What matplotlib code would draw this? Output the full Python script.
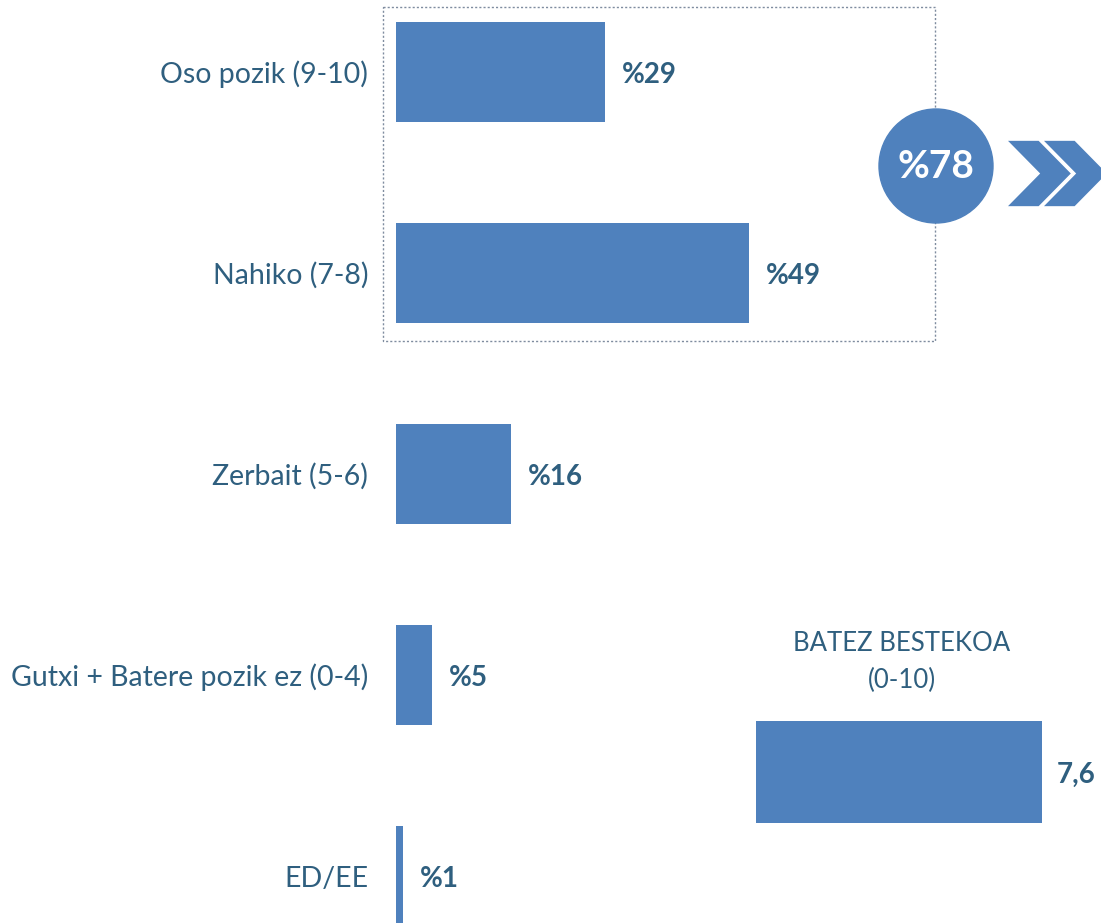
import matplotlib
matplotlib.use("Agg")
import matplotlib.pyplot as plt
from matplotlib.patches import Rectangle, Circle, Polygon

plt.rcParams['font.family'] = ['Lato', 'DejaVu Sans']

# datuak
categories = ['Oso pozik (9-10)', 'Nahiko (7-8)', 'Zerbait (5-6)',
              'Gutxi + Batere pozik ez (0-4)', 'ED/EE']
values = [29, 49, 16, 5, 1]
mean_label = 'BATEZ BESTEKOA\n(0-10)'
mean_value = 7.6

bar_color = '#4F81BD'
text_color = '#2F5F7F'

W, H = 1101, 923
fig = plt.figure(figsize=(W / 100, H / 100), dpi=100)

# barrak
px_per_pct = 7.2
ax = fig.add_axes([396 / W, 0, (W - 396) / W, 1])
ax.barh(range(len(values)), values, height=0.5, color=bar_color)
ax.set_xlim(0, (W - 396) / px_per_pct)
ax.set_ylim((H - 72) / 201, -72 / 201)
ax.set_yticks(range(len(categories)))
ax.set_yticklabels(categories, fontsize=20.5, color=text_color)
ax.tick_params(axis='y', length=0, pad=20)
ax.set_xticks([])
for s in ax.spines.values():
    s.set_visible(False)
for i, v in enumerate(values):
    ax.annotate(f'%{v}', (v, i), xytext=(12, -2), textcoords='offset points',
                ha='left', va='center', fontsize=20, fontweight='bold',
                color=text_color)

# batez bestekoa
ax2 = fig.add_axes([756 / W, (H - 823) / H, 376 / W, 102 / H])
ax2.barh([0], [mean_value], height=1, color=bar_color)
ax2.set_xlim(0, 10)
ax2.set_ylim(-0.5, 0.5)
ax2.axis('off')
ax2.annotate(f'{mean_value:.1f}'.replace('.', ','), (mean_value, 0),
             xytext=(11, -2), textcoords='offset points', ha='left', va='center',
             fontsize=20, fontweight='bold', color=text_color, annotation_clip=False)
ax2.annotate(mean_label, (0.388, 1.0), xycoords='axes fraction',
             xytext=(0, 20), textcoords='offset points', ha='center', va='bottom',
             fontsize=18.5, color=text_color, linespacing=1.6)

# apaingarriak (pixel koordenatuak)
ov = fig.add_axes([0, 0, 1, 1], zorder=5)
ov.set_xlim(0, W)
ov.set_ylim(H, 0)
ov.axis('off')
ov.patch.set_alpha(0)
ov.add_patch(Rectangle((383, 7), 552, 334, fill=False, ls=(0, (1.5, 1.5)),
                       lw=1, ec='#7F8C9F'))
ov.add_patch(Circle((936, 166), 57, color=bar_color, zorder=3))
ov.text(936, 167, f'%{values[0] + values[1]}', ha='center', va='center',
        fontsize=28, fontweight='bold', color='white', zorder=4)
for x0 in (1006, 1042):
    ov.add_patch(Polygon([(x0, 140), (x0 + 33, 140), (x0 + 66, 173.5),
                          (x0 + 33, 207), (x0, 207), (x0 + 33, 173.5)],
                         closed=True, fc=bar_color, ec='white', lw=1.2))

fig.savefig('out.png', dpi=100)
